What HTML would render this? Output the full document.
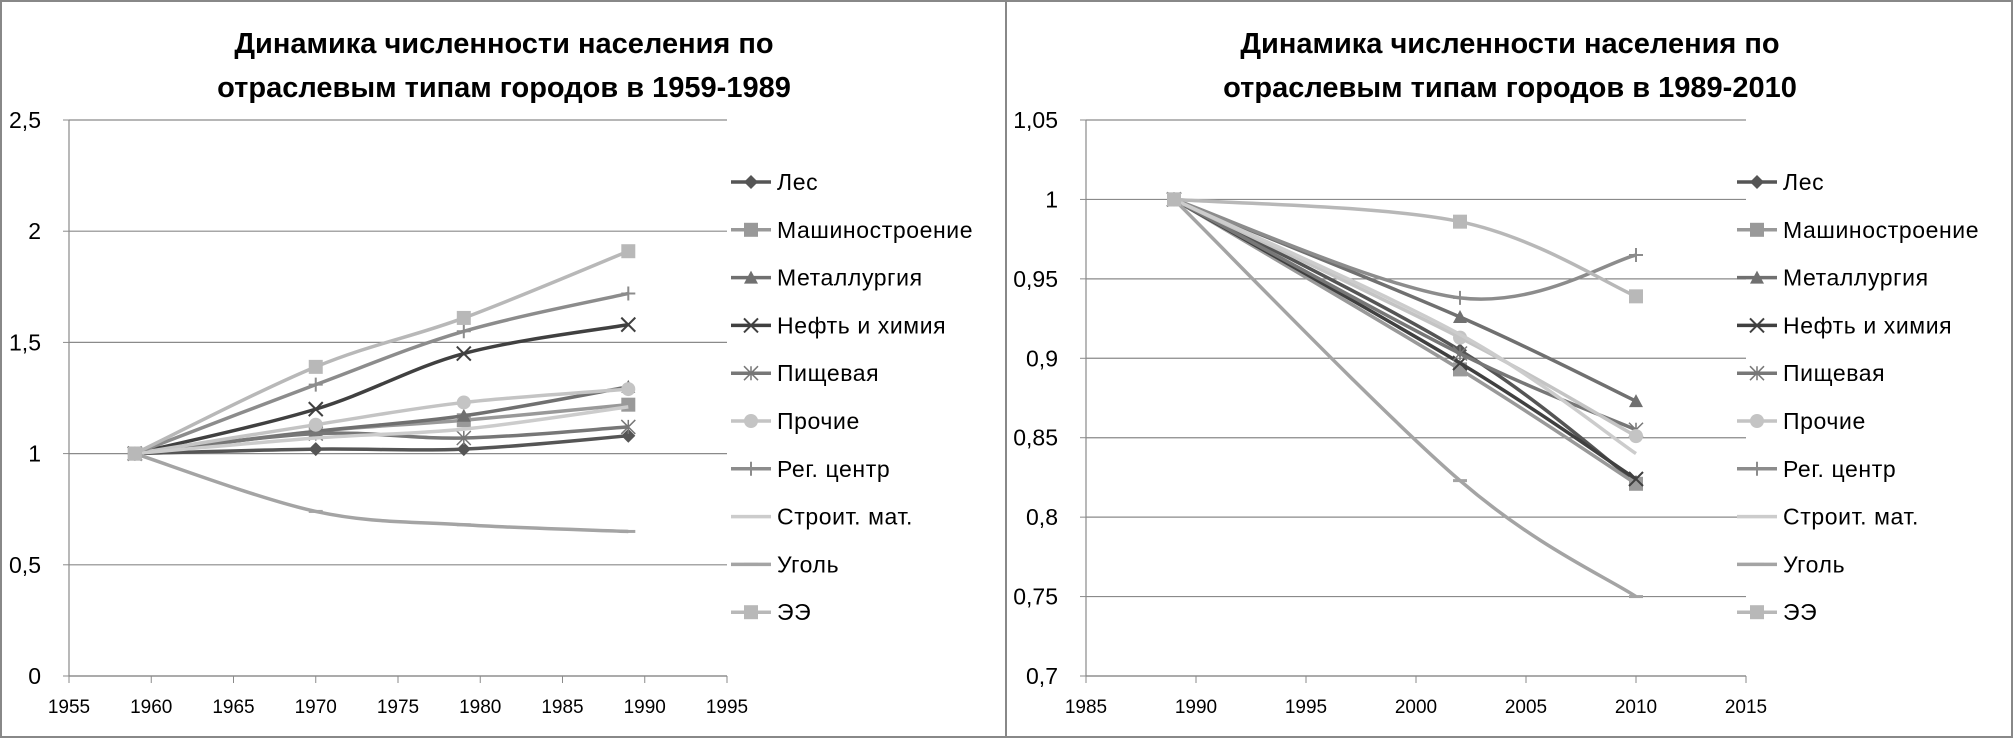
<!DOCTYPE html>
<html><head><meta charset="utf-8"><style>
html,body{margin:0;padding:0;background:#fff;}
svg{display:block;font-family:"Liberation Sans",sans-serif;}
</style></head><body>
<svg id="s" width="2013" height="738" viewBox="0 0 2013 738">
<rect x="1" y="1" width="2011" height="736" fill="#fff" stroke="#888" stroke-width="2"/>
<line x1="1006" y1="0" x2="1006" y2="738" stroke="#888" stroke-width="2"/>
</svg>
<script>
const seriesNames=["Лес","Машиностроение","Металлургия","Нефть и химия","Пищевая","Прочие","Рег. центр","Строит. мат.","Уголь","ЭЭ"];
const seriesColors=["#555","#999","#707070","#404040","#777","#c4c4c4","#8c8c8c","#cccccc","#a4a4a4","#b8b8b8"];
const seriesMarkers=["diamond","square","triangle","x","star","circle","plus","none","dash","square"];
const leftYears=[1959,1970,1979,1989];
const leftValues=[
[1,1.02,1.02,1.08],
[1,1.10,1.15,1.22],
[1,1.10,1.17,1.30],
[1,1.20,1.45,1.58],
[1,1.09,1.07,1.12],
[1,1.13,1.23,1.29],
[1,1.31,1.55,1.72],
[1,1.07,1.11,1.21],
[1,0.74,0.68,0.65],
[1,1.39,1.61,1.91]];
const leftXTicks=[1955,1960,1965,1970,1975,1980,1985,1990,1995];
const leftYTicks=[0,0.5,1,1.5,2,2.5];
const rightYears=[1989,2002,2010];
const rightValues=[
[1,0.905,0.822],
[1,0.893,0.821],
[1,0.926,0.873],
[1,0.897,0.824],
[1,0.903,0.855],
[1,0.913,0.851],
[1,0.938,0.965],
[1,0.915,0.840],
[1,0.823,0.750],
[1,0.986,0.939]];
const rightXTicks=[1985,1990,1995,2000,2005,2010,2015];
const rightYTicks=[0.7,0.75,0.8,0.85,0.9,0.95,1,1.05];

const NS="http://www.w3.org/2000/svg";
const svg=document.getElementById('s');
function mk(tag,attrs,parent){const e=document.createElementNS(NS,tag);for(const k in attrs)e.setAttribute(k,attrs[k]);(parent||svg).appendChild(e);return e;}
function fmt(v){return String(+v.toFixed(2)).replace('.',',');}
function smooth(pts){
  let d="M"+pts[0][0]+","+pts[0][1];
  for(let i=0;i<pts.length-1;i++){
    const p0=pts[i-1]||pts[i],p1=pts[i],p2=pts[i+1],p3=pts[i+2]||p2;
    const t=1/6;
    const c1=[p1[0]+(p2[0]-p0[0])*t,p1[1]+(p2[1]-p0[1])*t];
    const c2=[p2[0]-(p3[0]-p1[0])*t,p2[1]-(p3[1]-p1[1])*t];
    d+=" C"+c1+" "+c2+" "+p2;
  }
  return d;
}
function marker(g,type,x,y,col){
  const s=7;
  if(type==="diamond")mk('polygon',{points:`${x},${y-s} ${x+s},${y} ${x},${y+s} ${x-s},${y}`,fill:col},g);
  else if(type==="square")mk('rect',{x:x-s,y:y-s,width:2*s,height:2*s,fill:col},g);
  else if(type==="triangle")mk('polygon',{points:`${x},${y-s} ${x+s},${y+s-1} ${x-s},${y+s-1}`,fill:col},g);
  else if(type==="circle")mk('circle',{cx:x,cy:y,r:s,fill:col},g);
  else if(type==="x")mk('path',{d:`M${x-s},${y-s}L${x+s},${y+s}M${x+s},${y-s}L${x-s},${y+s}`,stroke:col,'stroke-width':2},g);
  else if(type==="plus")mk('path',{d:`M${x-s},${y}L${x+s},${y}M${x},${y-s}L${x},${y+s}`,stroke:col,'stroke-width':2},g);
  else if(type==="star")mk('path',{d:`M${x-s},${y-s}L${x+s},${y+s}M${x+s},${y-s}L${x-s},${y+s}M${x},${y-s}L${x},${y+s}`,stroke:col,'stroke-width':1.5},g);
  else if(type==="dash")mk('path',{d:`M${x-s},${y}L${x+s},${y}`,stroke:col,'stroke-width':3},g);
}
function chart(cfg){
  const {ox,px0,px1,py0,py1,xmin,xmax,ymin,ymax,xt,yt,years,values,title,name}=cfg;
  const sx=v=>px0+(v-xmin)/(xmax-xmin)*(px1-px0);
  const sy=v=>py1-(v-ymin)/(ymax-ymin)*(py1-py0);
  const g=mk('g',{});
  
  
  const t=mk('text',{x:ox+504,y:53,'text-anchor':'middle','font-size':29,'font-weight':'bold',fill:'#000'},g);
  
  
  const t1=mk('tspan',{x:ox+504,y:53},t);t1.textContent=title[0];
  const t2=mk('tspan',{x:ox+504,y:97},t);t2.textContent=title[1];
  yt.forEach(v=>{
    const y=sy(v);
    const gl=mk('line',{x1:px0,x2:px1,y1:y,y2:y,stroke:'#8a8a8a','stroke-width':1.2},g);
    
    
    mk('line',{x1:px0-6,x2:px0,y1:y,y2:y,stroke:'#8a8a8a'},g);
    const l=mk('text',{x:px0-28,y:y+8,'text-anchor':'end','font-size':23,fill:'#000'},g);
    l.textContent=fmt(v);
    
    
  });
  const ax=mk('line',{x1:px0,x2:px0,y1:py0,y2:py1,stroke:'#8a8a8a','stroke-width':1.2},g);
  
  
  const xa=mk('line',{x1:px0,x2:px1,y1:py1,y2:py1,stroke:'#8a8a8a','stroke-width':1.2},g);
  
  
  xt.forEach(v=>{
    const x=sx(v);
    mk('line',{x1:x,x2:x,y1:py1,y2:py1+7,stroke:'#8a8a8a'},g);
    const l=mk('text',{x:x,y:py1+37,'text-anchor':'middle','font-size':19,fill:'#000'},g);
    l.textContent=v;
    
    
  });
  values.forEach((vals,i)=>{
    const pts=vals.map((v,j)=>[sx(years[j]),sy(v)]);
    const sg=mk('g',{},g);
    
    
    mk('path',{d:smooth(pts),fill:'none',stroke:seriesColors[i],'stroke-width':3.5},sg);
    pts.forEach(p=>marker(sg,seriesMarkers[i],p[0],p[1],seriesColors[i]));
  });
  seriesNames.forEach((n,i)=>{
    const y=182+i*47.8;
    const lg=mk('g',{},g);
    
    
    mk('line',{x1:ox+731,x2:ox+771,y1:y,y2:y,stroke:seriesColors[i],'stroke-width':3.5},lg);
    marker(lg,seriesMarkers[i],ox+751,y,seriesColors[i]);
    const tx=mk('text',{x:ox+777,y:y+8,'font-size':23,fill:'#000','letter-spacing':'0.6'},lg);
    tx.textContent=n;
  });
}
chart({ox:0,px0:69,px1:727,py0:120,py1:676,xmin:1955,xmax:1995,ymin:0,ymax:2.5,xt:leftXTicks,yt:leftYTicks,years:leftYears,values:leftValues,title:["Динамика численности населения по","отраслевым типам городов в 1959-1989"],name:"chart-1959-1989"});
chart({ox:1006,px0:1086,px1:1746,py0:120,py1:676,xmin:1985,xmax:2015,ymin:0.7,ymax:1.05,xt:rightXTicks,yt:rightYTicks,years:rightYears,values:rightValues,title:["Динамика численности населения по","отраслевым типам городов в 1989-2010"],name:"chart-1989-2010"});
</script>
</body></html>
